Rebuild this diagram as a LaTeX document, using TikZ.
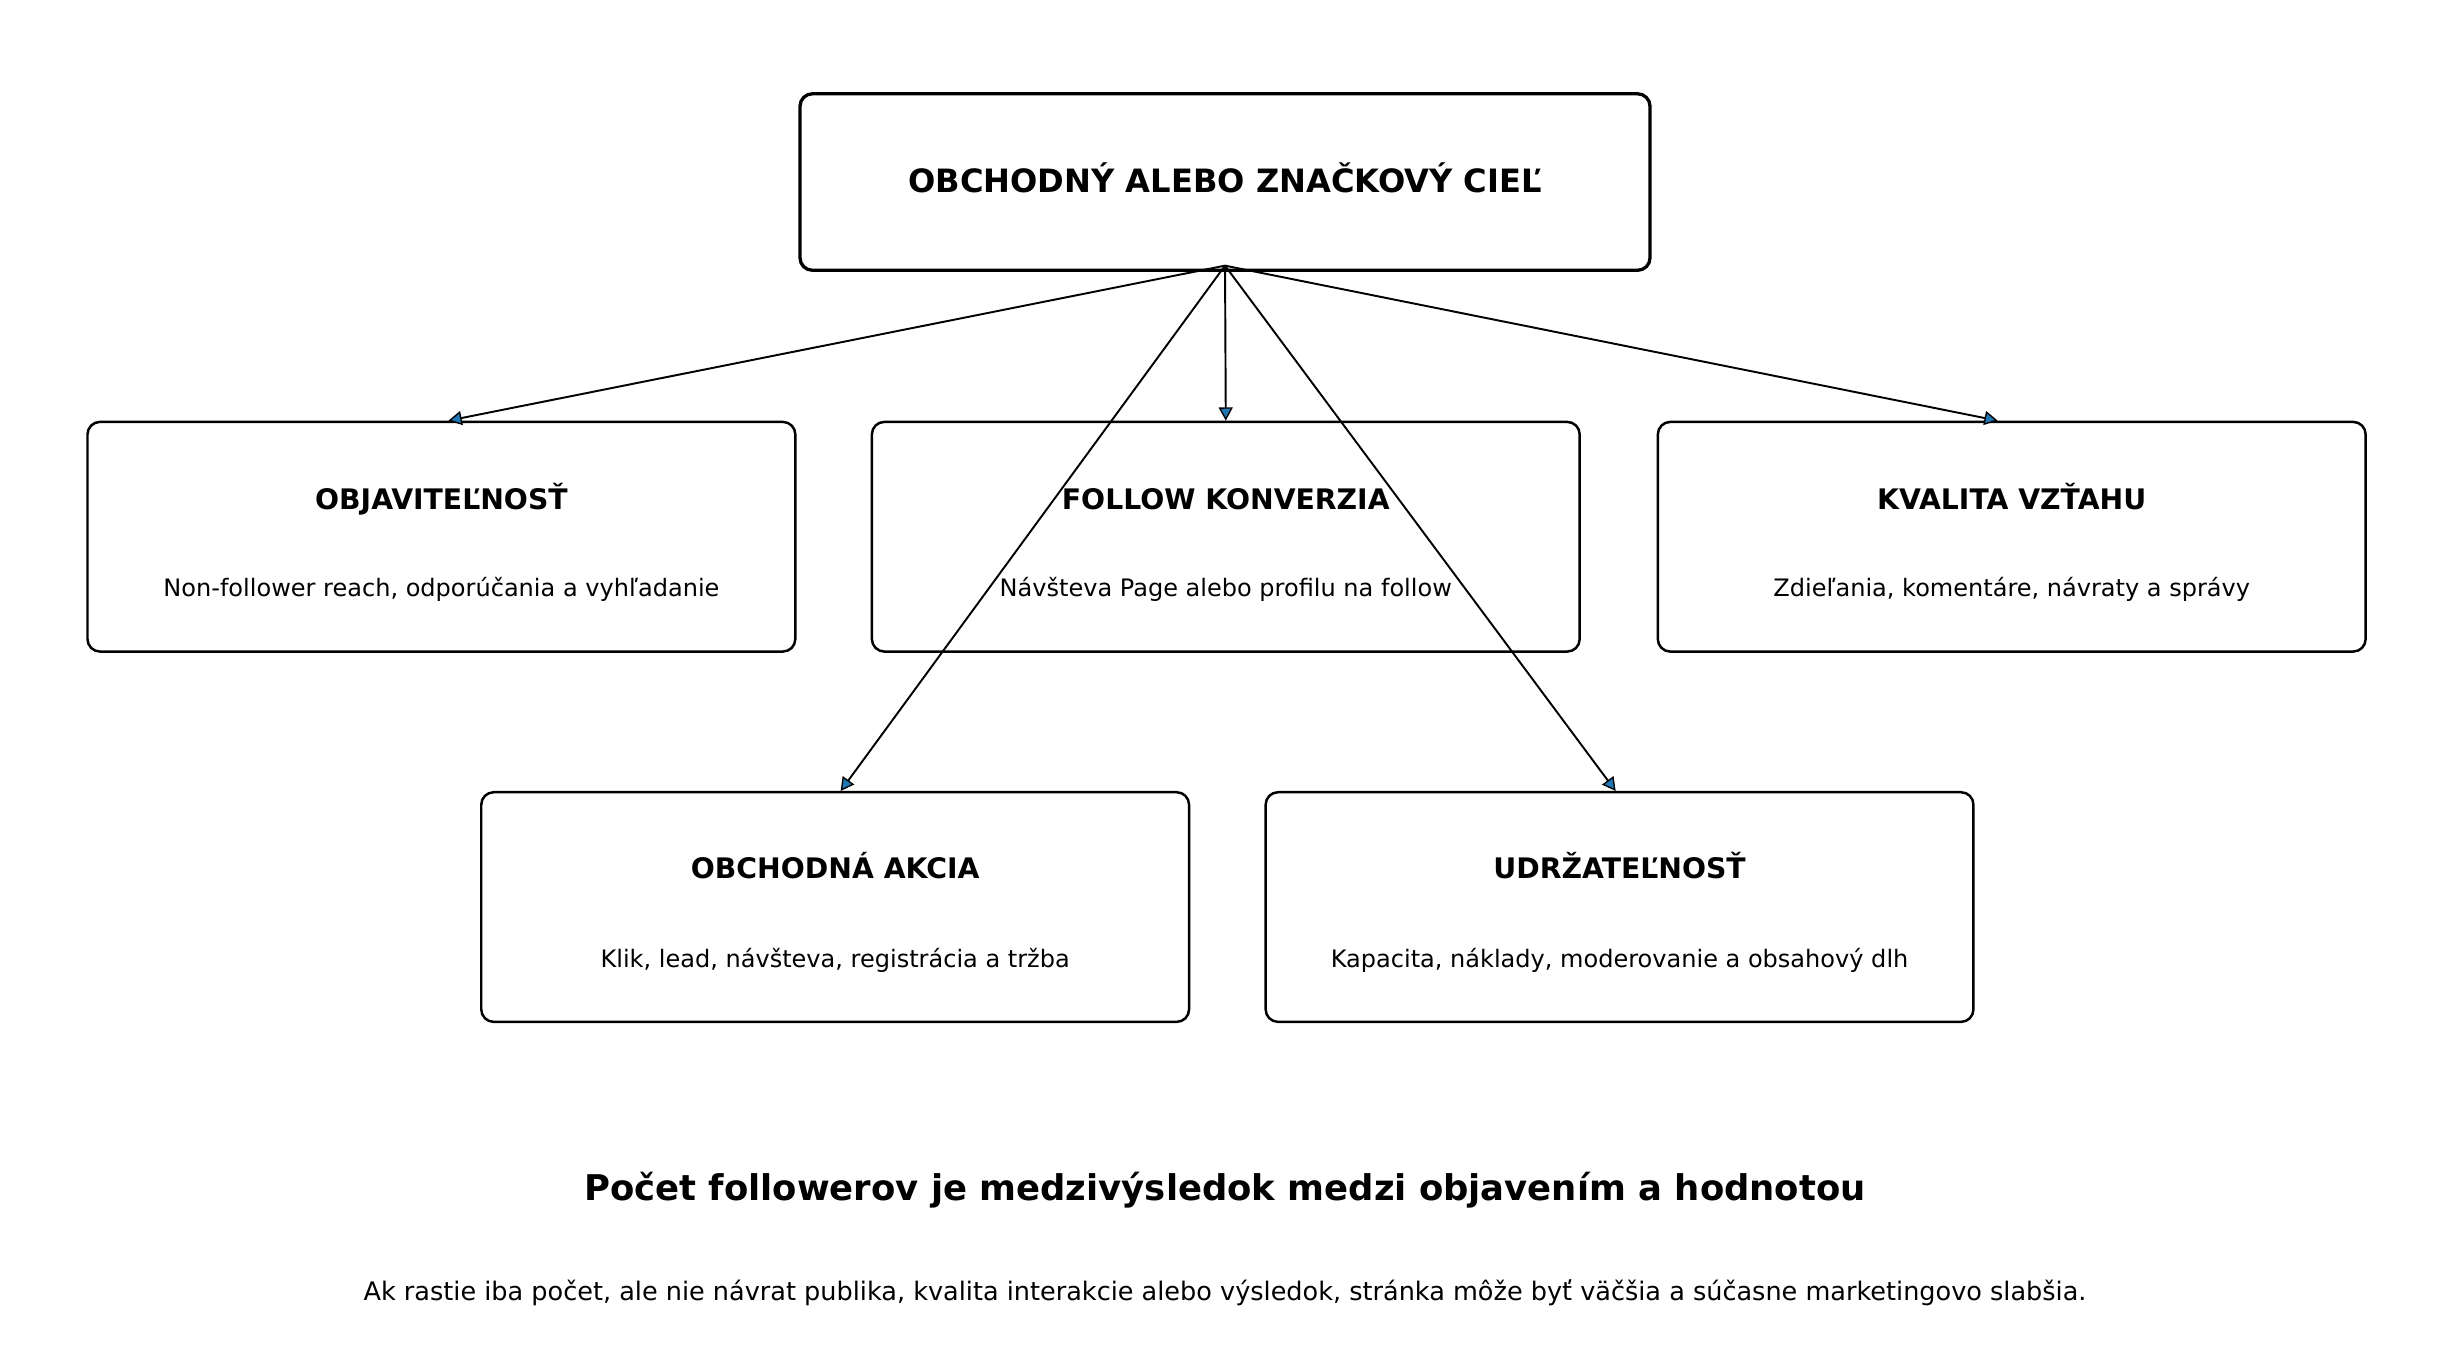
\documentclass[tikz,border=0pt]{standalone}
\usepackage{fontspec}
\setmainfont{DejaVu Sans}
\usetikzlibrary{arrows.meta}
\definecolor{tipblue}{HTML}{1F77B4}
\tikzset{
	goalbox/.style={draw, line width=1.2pt, rounded corners=0.16cm, minimum width=10.88cm, minimum height=2.26cm},
	areabox/.style={draw, line width=0.9pt, rounded corners=0.16cm, minimum width=9.06cm, minimum height=2.94cm},
	areatitle/.style={anchor=base, font=\fontsize{10.3}{12}\selectfont\bfseries},
	areatext/.style={anchor=base, font=\fontsize{8.75}{10}\selectfont},
	link/.style={line width=0.7pt, -{Triangle[length=0.17cm, width=0.18cm, fill=tipblue, line width=0.5pt]}}
}
\begin{document}
\begin{tikzpicture}
				\useasboundingbox (0, 0) rectangle (31.36, -17.26);
				
				% ciel
				\node[goalbox] (goal) at (15.68, -2.33) {};
				\node[anchor=base, font=\fontsize{11.7}{14}\selectfont\bfseries] (goal-t) at (15.68, -2.47) {OBCHODNÝ ALEBO ZNAČKOVÝ CIEĽ};
				\coordinate (goal-s) at (15.68, -3.40);
				
				% druhy rad
				\node[areabox] (objav) at (5.65, -6.87) {};
				\node[areatitle] (objav-t) at (5.65, -6.52) {OBJAVITEĽNOSŤ};
				\node[areatext] (objav-b) at (5.65, -7.64) {Non-follower reach, odporúčania a vyhľadanie};
				
				\node[areabox] (follow) at (15.69, -6.87) {};
				\node[areatitle] (follow-t) at (15.69, -6.52) {FOLLOW KONVERZIA};
				\node[areatext] (follow-b) at (15.69, -7.64) {Návšteva Page alebo profilu na follow};
				
				\node[areabox] (vztah) at (25.75, -6.87) {};
				\node[areatitle] (vztah-t) at (25.75, -6.52) {KVALITA VZŤAHU};
				\node[areatext] (vztah-b) at (25.75, -7.64) {Zdieľania, komentáre, návraty a správy};
				
				% treti rad
				\node[areabox] (akcia) at (10.69, -11.61) {};
				\node[areatitle] (akcia-t) at (10.69, -11.25) {OBCHODNÁ AKCIA};
				\node[areatext] (akcia-b) at (10.69, -12.38) {Klik, lead, návšteva, registrácia a tržba};
				
				\node[areabox] (udrz) at (20.73, -11.61) {};
				\node[areatitle] (udrz-t) at (20.73, -11.25) {UDRŽATEĽNOSŤ};
				\node[areatext] (udrz-b) at (20.73, -12.38) {Kapacita, náklady, moderovanie a obsahový dlh};
				
				% sipky
				\draw[link] (goal-s) -- ([xshift=0.09cm]objav.north);
				\draw[link] (goal-s) -- (follow.north);
				\draw[link] (goal-s) -- ([xshift=-0.18cm]vztah.north);
				\draw[link] (goal-s) -- ([xshift=0.07cm]akcia.north);
				\draw[link] (goal-s) -- ([xshift=-0.05cm]udrz.north);
				
				% zaver
				\node[anchor=base, font=\fontsize{12.9}{15}\selectfont\bfseries] (zaver) at (15.68, -15.37) {Počet followerov je medzivýsledok medzi objavením a hodnotou};
				\node[anchor=base, font=\fontsize{9.3}{11}\selectfont] (pozn) at (15.68, -16.65) {Ak rastie iba počet, ale nie návrat publika, kvalita interakcie alebo výsledok, stránka môže byť väčšia a súčasne marketingovo slabšia.};
			\end{tikzpicture}
\end{document}
